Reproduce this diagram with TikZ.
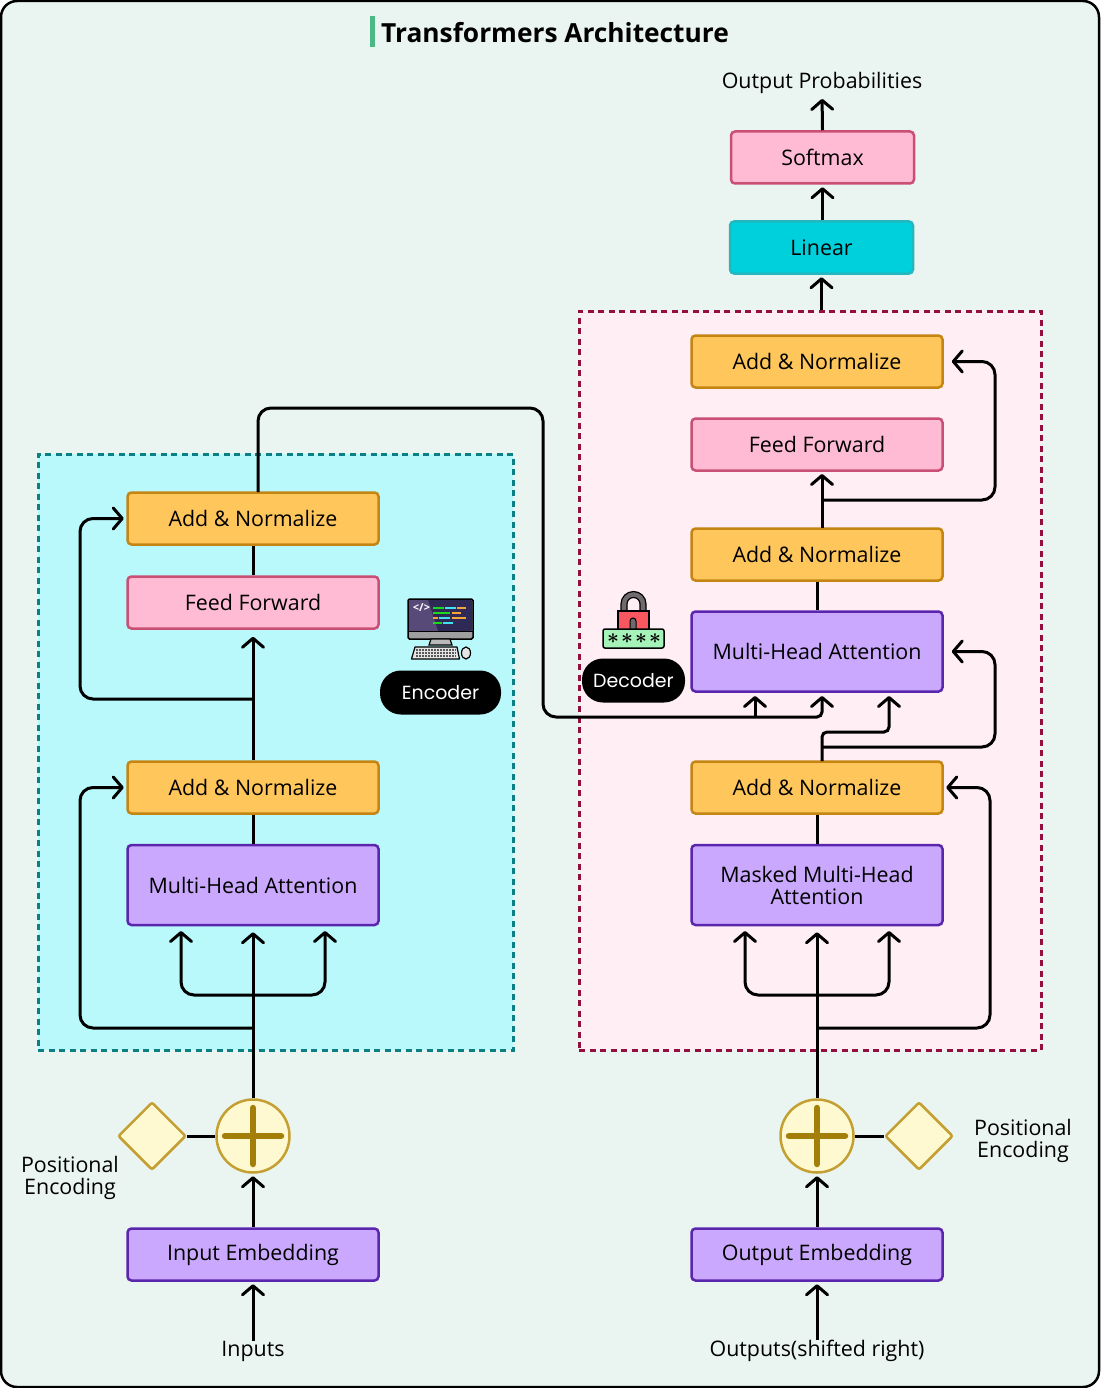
\documentclass[tikz,border=0pt]{standalone}
\usepackage{fontspec}
\setmainfont{Open Sans}
\newfontfamily\pillfont{Poppins}
\usetikzlibrary{positioning}
\usetikzlibrary{arrows.meta}
\usetikzlibrary{calc}
\usetikzlibrary{shapes.geometric}
\definecolor{pagebg}{HTML}{EAF4F0}
\definecolor{encbg}{HTML}{B9F8FB}
\definecolor{encdash}{HTML}{0C7F85}
\definecolor{decbg}{HTML}{FFEEF3}
\definecolor{decdash}{HTML}{920F3F}
\definecolor{addfill}{HTML}{FFC65C}
\definecolor{adddraw}{HTML}{C58512}
\definecolor{ffill}{HTML}{FFBAD4}
\definecolor{fdraw}{HTML}{C94F74}
\definecolor{attfill}{HTML}{C9A8FD}
\definecolor{attdraw}{HTML}{5B26AE}
\definecolor{linfill}{HTML}{00D0DC}
\definecolor{lindraw}{HTML}{23B8C0}
\definecolor{posfill}{HTML}{FFF9D2}
\definecolor{posdraw}{HTML}{C4A033}
\definecolor{plusdraw}{HTML}{A37F0A}
\definecolor{titlebar}{HTML}{4DB887}
\definecolor{codegreen}{HTML}{19D81E}
\definecolor{codecyan}{HTML}{3FE3F0}
\definecolor{codeorange}{HTML}{F5A43A}
\definecolor{screendark}{HTML}{2F2A55}
\definecolor{screenlight}{HTML}{574A78}
\definecolor{lockbody}{HTML}{F9575F}
\definecolor{locktag}{HTML}{A5F3B9}
\definecolor{lockgray}{HTML}{6E6A6E}
\tikzset{
    x=1pt, y=-1pt,
    txt/.style={font=\fontsize{21.4}{22}\selectfont, align=center, inner sep=0pt},
    block/.style={txt, draw, rounded corners=4, line width=2.5, minimum width=251, minimum height=52},
    addblock/.style={block, fill=addfill, draw=adddraw},
    ffblock/.style={block, fill=ffill, draw=fdraw},
    attblock/.style={block, fill=attfill, draw=attdraw},
    tallblock/.style={attblock, minimum height=80},
    topblock/.style={block, minimum width=183},
    region/.style={line width=3, dash pattern=on 6pt off 4.5pt, minimum height=596, inner sep=0pt},
    pill/.style={fill=black, text=white, rounded corners=21, inner sep=0pt, minimum height=44, font=\pillfont\fontsize{19}{19}\selectfont},
    possum/.style={circle, draw=posdraw, fill=posfill, line width=2.5, minimum size=73, inner sep=0pt},
    posdiamond/.style={diamond, draw=posdraw, fill=posfill, line width=2.5, rounded corners=2, minimum size=68, inner sep=0pt},
    wire/.style={line width=3, rounded corners=13},
    arr/.style={wire, -{Straight Barb[length=9pt, width=21pt, round]}, shorten >=2.5pt},
}
\begin{document}
\begin{tikzpicture}
    \useasboundingbox (0,0) rectangle (1100,1388);
    \draw[fill=pagebg, line width=2.5, rounded corners=16] (1,1) rectangle (1099,1387);
    % title
    \fill[titlebar] (370,16) rectangle (374.5,47);
    \node[anchor=west, inner sep=0pt, font=\fontsize{26.3}{28}\selectfont\bfseries] (title) at (381,33) {Transformers Architecture};
    % dashed regions
    \node[region, draw=encdash, fill=encbg, minimum width=475] (encregion) at (275.5,752) {};
    \node[region, draw=decdash, fill=decbg, minimum width=462, minimum height=739] (decregion) at (810,680.5) {};

    % encoder
    \node[block, fill=attfill, draw=attdraw] (inembed) at (253,1254.5) {Input Embedding};
    \node[tallblock] (encatt) at (253,885) {Multi-Head Attention};
    \node[addblock] (encaddb) at (253,787.5) {Add \& Normalize};
    \node[ffblock] (encff) at (253,602.5) {Feed Forward};
    \node[addblock] (encadda) at (253,518.5) {Add \& Normalize};
    \node[possum] (encsum) at (253,1136) {};
    \node[posdiamond] (encpos) at (152,1136) {};
    \node[txt] (encposlabel) at (70,1178) {Positional\\Encoding};
    \node[txt] (inputs) at (253,1351) {Inputs};
    \node[pill, minimum width=121] (encoder) at (440.5,692.5) {\raisebox{-2pt}{Encoder}};

    % decoder
    \node[block, fill=attfill, draw=attdraw] (outembed) at (817,1254.5) {Output Embedding};
    \node[tallblock] (decmask) at (817,885) {Masked Multi-Head\\Attention};
    \node[addblock] (decaddc) at (817,787.5) {Add \& Normalize};
    \node[tallblock] (decatt) at (817,651.5) {Multi-Head Attention};
    \node[addblock] (decaddb) at (817,554.5) {Add \& Normalize};
    \node[ffblock] (decff) at (817,444.5) {Feed Forward};
    \node[addblock] (decadda) at (817,361.5) {Add \& Normalize};
    \node[possum] (decsum) at (817,1136) {};
    \node[posdiamond] (decpos) at (919,1136) {};
    \node[txt] (decposlabel) at (1023,1141) {Positional\\Encoding};
    \node[txt] (outputs) at (817,1351) {Outputs(shifted right)};
    \node[pill, minimum width=103] (decoder) at (633.5,680.5) {\raisebox{-2pt}{Decoder}};

    % top of the stack
    \node[topblock, fill=linfill, draw=lindraw] (linear) at (821.5,247.5) {Linear};
    \node[topblock, fill=ffill, draw=fdraw] (softmax) at (822.5,157.5) {Softmax};
    \node[txt] (outprob) at (822,83) {Output Probabilities};

    % plus signs
    \foreach \sumnode in {encsum,decsum} {
        \draw[plusdraw, line width=6.5, line cap=round] ($(\sumnode)+(0,-28)$) -- ($(\sumnode)+(0,28)$);
        \draw[plusdraw, line width=6.5, line cap=round] ($(\sumnode)+(-28,0)$) -- ($(\sumnode)+(28,0)$);
    }

    % encoder wires
    \draw[arr] (inputs.north) -- (inembed.south);
    \draw[arr] (inembed.north) -- (encsum.south);
    \draw[wire] (encpos.east) -- (encsum.west);
    \draw[arr, shorten >=6pt] (encsum.north) -- (encatt.south);
    \draw[arr, shorten >=6pt] (253,995) -| (181,925);
    \draw[arr, shorten >=6pt] (253,995) -| (325,925);
    \draw[arr] (253,1028) -- (80,1028) |- (encaddb.west);
    \draw[wire] (encatt.north) -- (encaddb.south);
    \draw[arr, shorten >=7pt] (encaddb.north) -- (encff.south);
    \draw[arr] (253,699) -- (80,699) |- (encadda.west);
    \draw[wire] (encff.north) -- (encadda.south);

    % encoder to decoder
    \draw[arr, shorten >=5pt] (258,492) -- (258,408) -- (543,408) -- (543,717) [rounded corners=5] -- (822,717) -- (822,691);
    \draw[arr, shorten >=5pt] (755,717) -- (755,691);

    % decoder wires
    \draw[arr] (outputs.north) -- (outembed.south);
    \draw[arr] (outembed.north) -- (decsum.south);
    \draw[wire] (decpos.west) -- (decsum.east);
    \draw[arr, shorten >=6pt] (decsum.north) -- (decmask.south);
    \draw[arr, shorten >=6pt] (817,995) -| (745,925);
    \draw[arr, shorten >=6pt] (817,995) -| (889,925);
    \draw[arr] (817,1028) -- (990,1028) |- (decaddc.east);
    \draw[wire] (decmask.north) -- (decaddc.south);
    \draw[arr, shorten >=5pt, rounded corners=5] (822,761) -- (822,732) -- (889,732) -- (889,691);
    \draw[arr, shorten >=8pt] (822,747) -- (995,747) |- (decatt.east);
    \draw[wire] (decatt.north) -- (decaddb.south);
    \draw[arr, shorten >=4pt] (822,528) -- (822,470);
    \draw[arr, shorten >=8pt] (822,500) -- (995,500) |- (decadda.east);
    \draw[arr] (decregion.north -| linear) -- (linear.south);
    \draw[arr] (linear.north -| softmax) -- (softmax.south);
    \draw[arr, shorten >=5pt] (softmax.north) -- (outprob.south);

    % computer icon
    \draw[black, fill=gray!75, line width=1.5, rounded corners=1.5] (408,599) rectangle (473,639);
    \fill[screendark, rounded corners=1] (409,600) rectangle (472,631);
    \fill[screenlight] (409,600) -- (428,600) -- (438,631) -- (409,631) -- cycle;
    \draw[black, line width=1] (408,631.5) -- (473,631.5);
    \draw[black, fill=gray!55, line width=1.2] (431,639) -- (450,639) -- (452,645) -- (429,645) -- cycle;
    \draw[black, fill=black!10, line width=1.2, line join=round] (415,647) -- (457,647) -- (459.5,659) -- (411.5,659) -- cycle;
    \foreach \keyy in {650,653,656} {
        \draw[black!65, line width=1.2, dash pattern=on 2pt off 1pt] (416,\keyy) -- (456,\keyy);
    }
    \draw[black, fill=black!10, line width=1.2] (466,653) ellipse [x radius=4.5, y radius=6];
    \node[white, inner sep=0pt, font=\fontsize{11}{11}\selectfont\bfseries] (codetag) at (421.5,608) {</>};
    \foreach \xa/\xb/\yy/\cc in {433/444/608/codegreen,445/456/608/codecyan,457/466/608/codeorange,433/450/613/codegreen,452/461/613/codeorange,433/438/618/codeorange,439/450/618/codecyan,452/466/618/codeorange,433/442/623/codegreen,443/453/623/codecyan} {
        \draw[\cc, line width=1.5] (\xa,\yy) -- (\xb,\yy);
    }

    % lock icon
    \draw[black, fill=lockgray, line width=1.2] (621,612) -- (621,604) arc [start angle=180, end angle=360, radius=12.5] -- (646,612) -- (640,612) -- (640,604) arc [start angle=360, end angle=180, radius=6.5] -- (627,612) -- cycle;
    \draw[black, fill=lockbody, line width=1.2] (618,611) rectangle (649,630);
    \draw[black, fill=lockgray, line width=1] (630,630) -- (630,621) arc [start angle=180, end angle=360, radius=3] -- (636,630) -- cycle;
    \draw[black, fill=locktag, line width=1.5, rounded corners=2] (603,629) rectangle (664,648);
    \foreach \starx in {613,627,641,655} {
        \node[inner sep=0pt, font=\fontsize{20}{20}\selectfont\boldmath] (star\starx) at (\starx,638.5) {$\ast$};
    }
\end{tikzpicture}
\end{document}
